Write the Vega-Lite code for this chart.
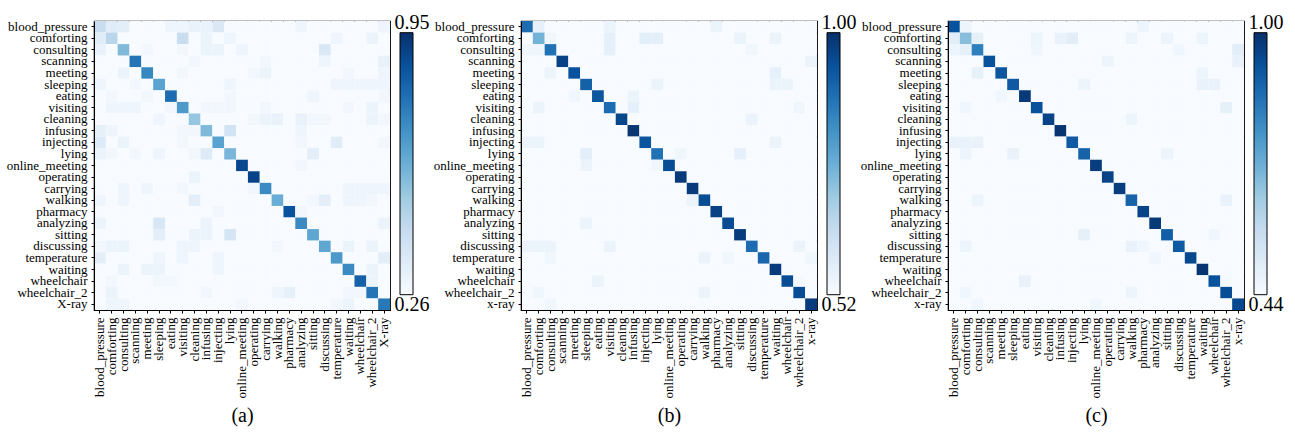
{
"$schema": "https://vega.github.io/schema/vega-lite/v6.json",
"background": "white",
"padding": {"left": 5, "top": 12, "right": 5, "bottom": 5},
"data": {"values": [
{"panel":"a","row":"a","a":0.42,"b":0.34,"c":0.33,"d":0,"e":0,"f":0,"g":0.29,"h":0.29,"i":0.31,"j":0.31,"k":0.36,"l":0,"m":0,"n":0,"o":0,"p":0,"q":0,"r":0.29,"s":0,"t":0,"u":0,"v":0,"w":0,"x":0,"y":0.29},
{"panel":"a","row":"b","a":0.34,"b":0.46,"c":0,"d":0,"e":0,"f":0,"g":0,"h":0.42,"i":0,"j":0.3,"k":0,"l":0.29,"m":0,"n":0,"o":0,"p":0,"q":0,"r":0,"s":0,"t":0,"u":0.29,"v":0,"w":0,"x":0.3,"y":0},
{"panel":"a","row":"c","a":0.31,"b":0,"c":0.57,"d":0,"e":0.28,"f":0,"g":0,"h":0.28,"i":0,"j":0.3,"k":0.3,"l":0,"m":0.29,"n":0,"o":0,"p":0,"q":0,"r":0,"s":0,"t":0.36,"u":0,"v":0,"w":0,"x":0,"y":0},
{"panel":"a","row":"d","a":0,"b":0,"c":0,"d":0.77,"e":0,"f":0,"g":0,"h":0,"i":0.28,"j":0,"k":0,"l":0,"m":0,"n":0,"o":0.28,"p":0,"q":0,"r":0,"s":0,"t":0.29,"u":0,"v":0,"w":0,"x":0,"y":0.31},
{"panel":"a","row":"e","a":0,"b":0,"c":0.3,"d":0,"e":0.72,"f":0,"g":0,"h":0.28,"i":0,"j":0,"k":0,"l":0,"m":0,"n":0.28,"o":0.3,"p":0,"q":0,"r":0,"s":0,"t":0,"u":0,"v":0.28,"w":0,"x":0,"y":0.29},
{"panel":"a","row":"f","a":0.29,"b":0,"c":0,"d":0.28,"e":0,"f":0.64,"g":0,"h":0,"i":0,"j":0,"k":0,"l":0.29,"m":0,"n":0,"o":0,"p":0,"q":0,"r":0,"s":0,"t":0,"u":0.29,"v":0.29,"w":0.29,"x":0.29,"y":0.29},
{"panel":"a","row":"g","a":0,"b":0.28,"c":0,"d":0,"e":0.28,"f":0,"g":0.79,"h":0,"i":0,"j":0,"k":0,"l":0.28,"m":0,"n":0,"o":0,"p":0,"q":0,"r":0,"s":0.29,"t":0,"u":0,"v":0,"w":0,"x":0,"y":0.28},
{"panel":"a","row":"h","a":0,"b":0.29,"c":0.29,"d":0.29,"e":0,"f":0,"g":0.28,"h":0.67,"i":0,"j":0.28,"k":0.28,"l":0.28,"m":0,"n":0,"o":0.28,"p":0,"q":0,"r":0,"s":0,"t":0,"u":0,"v":0.28,"w":0,"x":0.3,"y":0},
{"panel":"a","row":"i","a":0,"b":0,"c":0,"d":0,"e":0,"f":0.29,"g":0,"h":0,"i":0.53,"j":0,"k":0,"l":0,"m":0,"n":0.28,"o":0.3,"p":0.31,"q":0,"r":0.31,"s":0.28,"t":0.28,"u":0,"v":0,"w":0,"x":0.3,"y":0.28},
{"panel":"a","row":"j","a":0.32,"b":0.29,"c":0,"d":0,"e":0,"f":0,"g":0,"h":0.28,"i":0.28,"j":0.57,"k":0,"l":0.39,"m":0,"n":0,"o":0,"p":0,"q":0,"r":0.29,"s":0,"t":0,"u":0,"v":0,"w":0,"x":0,"y":0},
{"panel":"a","row":"k","a":0.35,"b":0,"c":0.3,"d":0,"e":0,"f":0,"g":0,"h":0.28,"i":0,"j":0,"k":0.64,"l":0,"m":0,"n":0,"o":0,"p":0,"q":0,"r":0.28,"s":0,"t":0,"u":0.34,"v":0,"w":0,"x":0,"y":0.28},
{"panel":"a","row":"l","a":0.3,"b":0.28,"c":0,"d":0.28,"e":0,"f":0.29,"g":0,"h":0,"i":0.28,"j":0.35,"k":0,"l":0.58,"m":0,"n":0,"o":0,"p":0,"q":0,"r":0,"s":0.33,"t":0,"u":0,"v":0,"w":0,"x":0,"y":0},
{"panel":"a","row":"m","a":0,"b":0,"c":0,"d":0,"e":0,"f":0,"g":0,"h":0,"i":0,"j":0,"k":0,"l":0,"m":0.89,"n":0,"o":0,"p":0,"q":0,"r":0.28,"s":0,"t":0,"u":0,"v":0,"w":0,"x":0,"y":0},
{"panel":"a","row":"n","a":0,"b":0,"c":0,"d":0,"e":0,"f":0,"g":0,"h":0,"i":0.3,"j":0,"k":0,"l":0,"m":0,"n":0.9,"o":0,"p":0,"q":0,"r":0,"s":0,"t":0,"u":0,"v":0,"w":0,"x":0,"y":0},
{"panel":"a","row":"o","a":0,"b":0,"c":0.29,"d":0,"e":0.29,"f":0,"g":0,"h":0.28,"i":0,"j":0,"k":0,"l":0,"m":0,"n":0.28,"o":0.71,"p":0,"q":0,"r":0,"s":0,"t":0,"u":0,"v":0.29,"w":0.29,"x":0.29,"y":0.29},
{"panel":"a","row":"p","a":0.29,"b":0,"c":0.29,"d":0,"e":0,"f":0,"g":0,"h":0,"i":0.33,"j":0,"k":0,"l":0,"m":0,"n":0,"o":0,"p":0.61,"q":0,"r":0,"s":0.28,"t":0.33,"u":0,"v":0.29,"w":0.29,"x":0.28,"y":0},
{"panel":"a","row":"q","a":0,"b":0,"c":0,"d":0,"e":0,"f":0,"g":0,"h":0,"i":0,"j":0,"k":0.28,"l":0,"m":0,"n":0,"o":0,"p":0,"q":0.86,"r":0.28,"s":0,"t":0,"u":0,"v":0,"w":0,"x":0,"y":0},
{"panel":"a","row":"r","a":0.3,"b":0,"c":0,"d":0,"e":0,"f":0.37,"g":0,"h":0,"i":0,"j":0.3,"k":0,"l":0,"m":0,"n":0,"o":0,"p":0,"q":0,"r":0.71,"s":0,"t":0,"u":0,"v":0,"w":0,"x":0,"y":0.3},
{"panel":"a","row":"s","a":0,"b":0,"c":0,"d":0,"e":0,"f":0.33,"g":0,"h":0,"i":0.3,"j":0.3,"k":0,"l":0.38,"m":0,"n":0,"o":0,"p":0,"q":0,"r":0,"s":0.63,"t":0,"u":0,"v":0,"w":0,"x":0,"y":0},
{"panel":"a","row":"t","a":0.28,"b":0.3,"c":0.3,"d":0,"e":0,"f":0,"g":0,"h":0.29,"i":0.29,"j":0,"k":0,"l":0,"m":0,"n":0,"o":0,"p":0.28,"q":0,"r":0,"s":0,"t":0.63,"u":0,"v":0.3,"w":0,"x":0.3,"y":0},
{"panel":"a","row":"u","a":0.33,"b":0,"c":0,"d":0,"e":0,"f":0.29,"g":0,"h":0.29,"i":0,"j":0,"k":0.29,"l":0,"m":0,"n":0,"o":0,"p":0,"q":0,"r":0,"s":0,"t":0,"u":0.67,"v":0,"w":0,"x":0,"y":0.33},
{"panel":"a","row":"v","a":0,"b":0,"c":0.3,"d":0,"e":0.3,"f":0.3,"g":0,"h":0,"i":0,"j":0,"k":0.29,"l":0,"m":0,"n":0,"o":0,"p":0,"q":0,"r":0,"s":0,"t":0,"u":0,"v":0.71,"w":0,"x":0.3,"y":0},
{"panel":"a","row":"w","a":0,"b":0.28,"c":0,"d":0,"e":0,"f":0.28,"g":0.28,"h":0,"i":0,"j":0,"k":0,"l":0,"m":0,"n":0,"o":0,"p":0,"q":0,"r":0,"s":0,"t":0,"u":0,"v":0,"w":0.82,"x":0.3,"y":0},
{"panel":"a","row":"x","a":0,"b":0.3,"c":0,"d":0,"e":0,"f":0,"g":0,"h":0,"i":0,"j":0.28,"k":0,"l":0,"m":0,"n":0,"o":0,"p":0.29,"q":0.32,"r":0,"s":0,"t":0,"u":0,"v":0.28,"w":0.28,"x":0.77,"y":0},
{"panel":"a","row":"y","a":0,"b":0.29,"c":0.29,"d":0,"e":0,"f":0,"g":0,"h":0,"i":0,"j":0,"k":0,"l":0,"m":0.28,"n":0,"o":0,"p":0,"q":0,"r":0,"s":0,"t":0,"u":0.28,"v":0.3,"w":0,"x":0,"y":0.76},
{"panel":"b","row":"a","a":0.89,"b":0.56,"c":0,"d":0,"e":0,"f":0,"g":0,"h":0.55,"i":0,"j":0,"k":0,"l":0,"m":0,"n":0,"o":0,"p":0,"q":0.55,"r":0,"s":0,"t":0,"u":0,"v":0,"w":0,"x":0,"y":0},
{"panel":"b","row":"b","a":0,"b":0.75,"c":0.54,"d":0,"e":0,"f":0,"g":0,"h":0.56,"i":0,"j":0,"k":0.57,"l":0.57,"m":0,"n":0,"o":0,"p":0,"q":0,"r":0,"s":0.55,"t":0,"u":0,"v":0.55,"w":0,"x":0,"y":0},
{"panel":"b","row":"c","a":0.54,"b":0.54,"c":0.88,"d":0,"e":0,"f":0,"g":0,"h":0.56,"i":0,"j":0,"k":0,"l":0,"m":0,"n":0,"o":0,"p":0,"q":0,"r":0,"s":0,"t":0.54,"u":0,"v":0,"w":0,"x":0,"y":0},
{"panel":"b","row":"d","a":0,"b":0,"c":0,"d":0.97,"e":0,"f":0,"g":0,"h":0,"i":0,"j":0,"k":0,"l":0,"m":0,"n":0,"o":0,"p":0,"q":0,"r":0,"s":0,"t":0,"u":0,"v":0,"w":0,"x":0,"y":0.55},
{"panel":"b","row":"e","a":0,"b":0,"c":0.55,"d":0,"e":0.94,"f":0,"g":0,"h":0,"i":0,"j":0,"k":0,"l":0,"m":0,"n":0,"o":0,"p":0,"q":0,"r":0,"s":0,"t":0,"u":0,"v":0.56,"w":0,"x":0,"y":0},
{"panel":"b","row":"f","a":0,"b":0,"c":0,"d":0,"e":0,"f":0.91,"g":0,"h":0,"i":0,"j":0,"k":0,"l":0.55,"m":0,"n":0,"o":0,"p":0,"q":0,"r":0,"s":0,"t":0,"u":0,"v":0.55,"w":0.55,"x":0,"y":0},
{"panel":"b","row":"g","a":0,"b":0,"c":0,"d":0,"e":0.54,"f":0,"g":0.93,"h":0,"i":0,"j":0.55,"k":0,"l":0,"m":0,"n":0,"o":0,"p":0,"q":0,"r":0,"s":0,"t":0,"u":0,"v":0,"w":0,"x":0,"y":0},
{"panel":"b","row":"h","a":0,"b":0.55,"c":0,"d":0,"e":0,"f":0,"g":0,"h":0.89,"i":0,"j":0.56,"k":0,"l":0,"m":0,"n":0,"o":0,"p":0,"q":0,"r":0,"s":0,"t":0,"u":0,"v":0,"w":0,"x":0.54,"y":0},
{"panel":"b","row":"i","a":0,"b":0,"c":0,"d":0,"e":0,"f":0,"g":0,"h":0,"i":0.96,"j":0,"k":0,"l":0,"m":0,"n":0,"o":0,"p":0,"q":0,"r":0,"s":0,"t":0.55,"u":0,"v":0,"w":0,"x":0,"y":0},
{"panel":"b","row":"j","a":0,"b":0,"c":0,"d":0,"e":0,"f":0,"g":0,"h":0,"i":0,"j":0.99,"k":0,"l":0,"m":0,"n":0,"o":0,"p":0,"q":0,"r":0,"s":0,"t":0,"u":0,"v":0,"w":0,"x":0,"y":0},
{"panel":"b","row":"k","a":0.55,"b":0.55,"c":0,"d":0,"e":0,"f":0,"g":0,"h":0,"i":0,"j":0,"k":0.93,"l":0,"m":0,"n":0,"o":0,"p":0,"q":0,"r":0,"s":0,"t":0,"u":0,"v":0.55,"w":0,"x":0,"y":0},
{"panel":"b","row":"l","a":0,"b":0,"c":0,"d":0,"e":0,"f":0.57,"g":0,"h":0,"i":0,"j":0,"k":0,"l":0.88,"m":0,"n":0.54,"o":0,"p":0,"q":0,"r":0,"s":0.56,"t":0,"u":0,"v":0,"w":0,"x":0,"y":0},
{"panel":"b","row":"m","a":0,"b":0,"c":0,"d":0,"e":0,"f":0.55,"g":0,"h":0,"i":0,"j":0,"k":0,"l":0.54,"m":0.95,"n":0,"o":0,"p":0,"q":0,"r":0,"s":0,"t":0,"u":0,"v":0,"w":0,"x":0,"y":0},
{"panel":"b","row":"n","a":0,"b":0,"c":0,"d":0,"e":0,"f":0,"g":0,"h":0,"i":0,"j":0,"k":0,"l":0,"m":0,"n":0.98,"o":0,"p":0,"q":0,"r":0,"s":0,"t":0,"u":0,"v":0,"w":0,"x":0,"y":0},
{"panel":"b","row":"o","a":0,"b":0,"c":0,"d":0,"e":0,"f":0,"g":0,"h":0,"i":0,"j":0,"k":0,"l":0,"m":0,"n":0,"o":0.98,"p":0,"q":0,"r":0,"s":0,"t":0,"u":0,"v":0,"w":0,"x":0,"y":0},
{"panel":"b","row":"p","a":0,"b":0,"c":0,"d":0,"e":0,"f":0,"g":0,"h":0,"i":0,"j":0,"k":0,"l":0,"m":0,"n":0,"o":0.55,"p":0.95,"q":0,"r":0,"s":0,"t":0,"u":0,"v":0,"w":0,"x":0,"y":0},
{"panel":"b","row":"q","a":0,"b":0,"c":0,"d":0,"e":0,"f":0,"g":0,"h":0,"i":0,"j":0,"k":0,"l":0,"m":0,"n":0,"o":0,"p":0,"q":0.97,"r":0,"s":0,"t":0,"u":0,"v":0,"w":0,"x":0,"y":0},
{"panel":"b","row":"r","a":0,"b":0,"c":0,"d":0,"e":0,"f":0.55,"g":0,"h":0,"i":0,"j":0,"k":0,"l":0,"m":0,"n":0,"o":0,"p":0,"q":0,"r":0.95,"s":0,"t":0,"u":0,"v":0,"w":0,"x":0,"y":0},
{"panel":"b","row":"s","a":0,"b":0,"c":0,"d":0,"e":0,"f":0,"g":0,"h":0,"i":0,"j":0,"k":0,"l":0,"m":0,"n":0,"o":0,"p":0,"q":0,"r":0,"s":0.98,"t":0,"u":0,"v":0,"w":0,"x":0,"y":0},
{"panel":"b","row":"t","a":0.55,"b":0.55,"c":0.55,"d":0,"e":0,"f":0,"g":0,"h":0.55,"i":0,"j":0,"k":0,"l":0,"m":0,"n":0,"o":0,"p":0,"q":0,"r":0,"s":0,"t":0.89,"u":0,"v":0,"w":0,"x":0.55,"y":0},
{"panel":"b","row":"u","a":0,"b":0,"c":0.54,"d":0,"e":0,"f":0,"g":0,"h":0,"i":0,"j":0,"k":0,"l":0,"m":0,"n":0,"o":0,"p":0.55,"q":0,"r":0.54,"s":0,"t":0,"u":0.9,"v":0,"w":0,"x":0,"y":0.54},
{"panel":"b","row":"v","a":0,"b":0,"c":0,"d":0,"e":0,"f":0,"g":0,"h":0,"i":0,"j":0,"k":0,"l":0,"m":0,"n":0,"o":0,"p":0,"q":0,"r":0,"s":0,"t":0,"u":0,"v":0.98,"w":0,"x":0,"y":0},
{"panel":"b","row":"w","a":0,"b":0,"c":0,"d":0,"e":0,"f":0,"g":0.55,"h":0,"i":0,"j":0,"k":0,"l":0,"m":0,"n":0,"o":0,"p":0,"q":0,"r":0,"s":0,"t":0,"u":0,"v":0,"w":0.95,"x":0.53,"y":0},
{"panel":"b","row":"x","a":0,"b":0.54,"c":0,"d":0,"e":0,"f":0,"g":0,"h":0,"i":0,"j":0,"k":0,"l":0,"m":0,"n":0,"o":0,"p":0.55,"q":0,"r":0,"s":0,"t":0,"u":0,"v":0,"w":0,"x":0.95,"y":0},
{"panel":"b","row":"y","a":0,"b":0,"c":0.54,"d":0,"e":0,"f":0,"g":0,"h":0,"i":0,"j":0,"k":0,"l":0,"m":0,"n":0,"o":0,"p":0,"q":0,"r":0,"s":0,"t":0,"u":0,"v":0,"w":0,"x":0,"y":0.98},
{"panel":"c","row":"a","a":0.93,"b":0.47,"c":0,"d":0,"e":0,"f":0,"g":0,"h":0,"i":0,"j":0,"k":0,"l":0,"m":0,"n":0,"o":0,"p":0,"q":0.47,"r":0,"s":0,"t":0,"u":0,"v":0,"w":0,"x":0,"y":0},
{"panel":"c","row":"b","a":0.5,"b":0.68,"c":0.49,"d":0,"e":0,"f":0,"g":0,"h":0.47,"i":0,"j":0.48,"k":0.5,"l":0,"m":0,"n":0,"o":0,"p":0.47,"q":0,"r":0,"s":0.47,"t":0,"u":0,"v":0.47,"w":0,"x":0,"y":0},
{"panel":"c","row":"c","a":0.47,"b":0.49,"c":0.83,"d":0,"e":0,"f":0,"g":0,"h":0.46,"i":0,"j":0,"k":0,"l":0,"m":0,"n":0,"o":0,"p":0,"q":0,"r":0,"s":0,"t":0.46,"u":0,"v":0,"w":0,"x":0,"y":0.5},
{"panel":"c","row":"d","a":0,"b":0,"c":0,"d":0.93,"e":0,"f":0,"g":0,"h":0,"i":0,"j":0,"k":0,"l":0,"m":0,"n":0.47,"o":0,"p":0,"q":0,"r":0,"s":0,"t":0,"u":0,"v":0,"w":0,"x":0,"y":0.48},
{"panel":"c","row":"e","a":0,"b":0,"c":0.49,"d":0,"e":0.92,"f":0,"g":0,"h":0,"i":0,"j":0,"k":0,"l":0,"m":0,"n":0,"o":0,"p":0,"q":0,"r":0,"s":0,"t":0,"u":0,"v":0.47,"w":0,"x":0,"y":0},
{"panel":"c","row":"f","a":0,"b":0,"c":0,"d":0,"e":0,"f":0.91,"g":0,"h":0,"i":0,"j":0,"k":0,"l":0.47,"m":0,"n":0,"o":0,"p":0,"q":0,"r":0,"s":0,"t":0,"u":0,"v":0.48,"w":0.48,"x":0,"y":0},
{"panel":"c","row":"g","a":0,"b":0,"c":0,"d":0,"e":0.46,"f":0,"g":0.98,"h":0,"i":0,"j":0,"k":0,"l":0,"m":0,"n":0,"o":0,"p":0,"q":0,"r":0,"s":0,"t":0,"u":0,"v":0,"w":0,"x":0,"y":0},
{"panel":"c","row":"h","a":0,"b":0.46,"c":0,"d":0,"e":0,"f":0,"g":0,"h":0.93,"i":0,"j":0,"k":0,"l":0,"m":0,"n":0,"o":0,"p":0,"q":0,"r":0,"s":0,"t":0,"u":0,"v":0,"w":0,"x":0.49,"y":0},
{"panel":"c","row":"i","a":0,"b":0,"c":0,"d":0,"e":0,"f":0,"g":0,"h":0,"i":0.96,"j":0,"k":0,"l":0,"m":0,"n":0,"o":0,"p":0.47,"q":0,"r":0,"s":0,"t":0,"u":0,"v":0,"w":0,"x":0,"y":0},
{"panel":"c","row":"j","a":0,"b":0,"c":0,"d":0,"e":0,"f":0,"g":0,"h":0,"i":0,"j":0.99,"k":0,"l":0,"m":0,"n":0,"o":0,"p":0,"q":0,"r":0,"s":0,"t":0,"u":0,"v":0,"w":0,"x":0,"y":0},
{"panel":"c","row":"k","a":0.48,"b":0.48,"c":0.48,"d":0,"e":0,"f":0,"g":0,"h":0,"i":0,"j":0,"k":0.91,"l":0,"m":0,"n":0,"o":0,"p":0,"q":0,"r":0,"s":0,"t":0,"u":0,"v":0,"w":0,"x":0,"y":0},
{"panel":"c","row":"l","a":0,"b":0.47,"c":0,"d":0,"e":0,"f":0.48,"g":0,"h":0,"i":0,"j":0,"k":0,"l":0.89,"m":0,"n":0,"o":0,"p":0,"q":0,"r":0,"s":0.47,"t":0,"u":0,"v":0,"w":0,"x":0,"y":0},
{"panel":"c","row":"m","a":0,"b":0,"c":0,"d":0,"e":0,"f":0,"g":0,"h":0,"i":0,"j":0,"k":0,"l":0,"m":0.97,"n":0,"o":0,"p":0,"q":0,"r":0,"s":0,"t":0,"u":0,"v":0,"w":0,"x":0,"y":0},
{"panel":"c","row":"n","a":0,"b":0,"c":0,"d":0,"e":0,"f":0,"g":0,"h":0,"i":0,"j":0,"k":0,"l":0,"m":0,"n":0.96,"o":0,"p":0,"q":0,"r":0,"s":0,"t":0,"u":0,"v":0,"w":0,"x":0,"y":0},
{"panel":"c","row":"o","a":0,"b":0,"c":0,"d":0,"e":0,"f":0,"g":0,"h":0,"i":0,"j":0,"k":0,"l":0,"m":0,"n":0,"o":0.97,"p":0,"q":0,"r":0,"s":0,"t":0,"u":0,"v":0,"w":0,"x":0,"y":0},
{"panel":"c","row":"p","a":0,"b":0,"c":0.47,"d":0,"e":0,"f":0,"g":0,"h":0,"i":0,"j":0,"k":0,"l":0,"m":0,"n":0,"o":0,"p":0.89,"q":0,"r":0,"s":0,"t":0,"u":0,"v":0,"w":0,"x":0.48,"y":0},
{"panel":"c","row":"q","a":0,"b":0,"c":0,"d":0,"e":0,"f":0,"g":0,"h":0,"i":0,"j":0,"k":0,"l":0,"m":0,"n":0,"o":0,"p":0,"q":0.96,"r":0,"s":0,"t":0,"u":0,"v":0,"w":0,"x":0,"y":0},
{"panel":"c","row":"r","a":0,"b":0,"c":0,"d":0,"e":0,"f":0,"g":0,"h":0,"i":0,"j":0,"k":0,"l":0,"m":0,"n":0,"o":0,"p":0,"q":0,"r":0.98,"s":0,"t":0,"u":0,"v":0,"w":0,"x":0,"y":0},
{"panel":"c","row":"s","a":0,"b":0,"c":0,"d":0,"e":0,"f":0,"g":0,"h":0,"i":0,"j":0,"k":0,"l":0.49,"m":0,"n":0,"o":0,"p":0,"q":0,"r":0,"s":0.9,"t":0,"u":0,"v":0,"w":0.46,"x":0,"y":0},
{"panel":"c","row":"t","a":0,"b":0.47,"c":0,"d":0,"e":0,"f":0,"g":0,"h":0,"i":0,"j":0,"k":0,"l":0,"m":0,"n":0,"o":0,"p":0.48,"q":0.46,"r":0,"s":0,"t":0.91,"u":0,"v":0,"w":0,"x":0,"y":0},
{"panel":"c","row":"u","a":0,"b":0,"c":0,"d":0,"e":0,"f":0,"g":0,"h":0,"i":0,"j":0,"k":0,"l":0,"m":0,"n":0,"o":0,"p":0,"q":0,"r":0.46,"s":0,"t":0,"u":0.95,"v":0,"w":0,"x":0,"y":0},
{"panel":"c","row":"v","a":0,"b":0,"c":0,"d":0,"e":0,"f":0,"g":0,"h":0,"i":0,"j":0,"k":0,"l":0,"m":0,"n":0,"o":0,"p":0,"q":0,"r":0,"s":0,"t":0,"u":0,"v":0.99,"w":0,"x":0,"y":0},
{"panel":"c","row":"w","a":0,"b":0,"c":0,"d":0,"e":0,"f":0,"g":0.48,"h":0,"i":0,"j":0,"k":0,"l":0,"m":0,"n":0,"o":0,"p":0,"q":0,"r":0,"s":0,"t":0,"u":0,"v":0,"w":0.93,"x":0.45,"y":0},
{"panel":"c","row":"x","a":0,"b":0.46,"c":0,"d":0,"e":0,"f":0,"g":0,"h":0,"i":0,"j":0,"k":0,"l":0,"m":0,"n":0,"o":0,"p":0.47,"q":0,"r":0,"s":0,"t":0,"u":0,"v":0,"w":0,"x":0.94,"y":0},
{"panel":"c","row":"y","a":0,"b":0,"c":0.46,"d":0,"e":0,"f":0,"g":0,"h":0,"i":0,"j":0,"k":0,"l":0,"m":0.46,"n":0,"o":0,"p":0,"q":0,"r":0,"s":0,"t":0,"u":0,"v":0,"w":0,"x":0,"y":0.95}
]},
"spacing": 3,
"hconcat": [
{"spacing": 2, "hconcat": [
{
 "width": 296, "height": 289,
 "transform": [{"filter": "datum.panel === 'a'"}, {"fold": ["a","b","c","d","e","f","g","h","i","j","k","l","m","n","o","p","q","r","s","t","u","v","w","x","y"], "as": ["col","v"]}],
 "mark": {"type": "rect"},
 "encoding": {
  "x": {"field": "col", "type": "ordinal", "axis": {"title": "(a)", "labelAngle": -90, "labelExpr": "['blood_pressure','comforting','consulting','scanning','meeting','sleeping','eating','visiting','cleaning','infusing','injecting','lying','online_meeting','operating','carrying','walking','pharmacy','analyzing','sitting','discussing','temperature','waiting','wheelchair','wheelchair_2','X-ray'][indexof('abcdefghijklmnopqrstuvwxy', datum.value)]"}},
  "y": {"field": "row", "type": "ordinal", "axis": {"title": null, "labelExpr": "['blood_pressure','comforting','consulting','scanning','meeting','sleeping','eating','visiting','cleaning','infusing','injecting','lying','online_meeting','operating','carrying','walking','pharmacy','analyzing','sitting','discussing','temperature','waiting','wheelchair','wheelchair_2','X-ray'][indexof('abcdefghijklmnopqrstuvwxy', datum.value)]"}},
  "color": {"field": "v", "type": "quantitative", "legend": null,
   "scale": {"domain": [0.26, 0.95], "clamp": true, "interpolate": "rgb", "range": ["#f7fbff","#deebf7","#c6dbef","#9ecae1","#6baed6","#4292c6","#2171b5","#08519c","#08306b"]}}
 }
},
{
 "width": 13, "height": 289,
 "view": {"stroke": null},
 "data": {"values": [{"lo": 0.26, "hi": 0.95}]},
 "mark": {"type": "rect", "stroke": "black", "strokeWidth": 1, "color": {"gradient": "linear", "x1": 0, "y1": 1, "x2": 0, "y2": 0, "stops": [{"offset": 0, "color": "#f7fbff"}, {"offset": 0.125, "color": "#deebf7"}, {"offset": 0.25, "color": "#c6dbef"}, {"offset": 0.375, "color": "#9ecae1"}, {"offset": 0.5, "color": "#6baed6"}, {"offset": 0.625, "color": "#4292c6"}, {"offset": 0.75, "color": "#2171b5"}, {"offset": 0.875, "color": "#08519c"}, {"offset": 1, "color": "#08306b"}]}},
 "encoding": {
  "y": {"field": "lo", "type": "quantitative", "scale": {"domain": [0.2197, 0.9808], "nice": false, "zero": false},
   "axis": {"title": null, "values": [0.26, 0.95], "format": ".2f", "domain": false, "ticks": false, "tickSize": 0, "labelAlign": "left", "labelPadding": 6, "labelFontSize": 20, "labelFlush": false, "labelBaseline": {"condition": {"test": "datum.value > 0.9", "value": "bottom"}, "value": "top"}}},
  "y2": {"field": "hi"}
 }
}
]},
{"spacing": 2, "hconcat": [
{
 "width": 296, "height": 289,
 "transform": [{"filter": "datum.panel === 'b'"}, {"fold": ["a","b","c","d","e","f","g","h","i","j","k","l","m","n","o","p","q","r","s","t","u","v","w","x","y"], "as": ["col","v"]}],
 "mark": {"type": "rect"},
 "encoding": {
  "x": {"field": "col", "type": "ordinal", "axis": {"title": "(b)", "labelAngle": -90, "labelExpr": "['blood_pressure','comforting','consulting','scanning','meeting','sleeping','eating','visiting','cleaning','infusing','injecting','lying','online_meeting','operating','carrying','walking','pharmacy','analyzing','sitting','discussing','temperature','waiting','wheelchair','wheelchair_2','x-ray'][indexof('abcdefghijklmnopqrstuvwxy', datum.value)]"}},
  "y": {"field": "row", "type": "ordinal", "axis": {"title": null, "labelExpr": "['blood_pressure','comforting','consulting','scanning','meeting','sleeping','eating','visiting','cleaning','infusing','injecting','lying','online_meeting','operating','carrying','walking','pharmacy','analyzing','sitting','discussing','temperature','waiting','wheelchair','wheelchair_2','x-ray'][indexof('abcdefghijklmnopqrstuvwxy', datum.value)]"}},
  "color": {"field": "v", "type": "quantitative", "legend": null,
   "scale": {"domain": [0.52, 1.0], "clamp": true, "interpolate": "rgb", "range": ["#f7fbff","#deebf7","#c6dbef","#9ecae1","#6baed6","#4292c6","#2171b5","#08519c","#08306b"]}}
 }
},
{
 "width": 13, "height": 289,
 "view": {"stroke": null},
 "data": {"values": [{"lo": 0.52, "hi": 1.0}]},
 "mark": {"type": "rect", "stroke": "black", "strokeWidth": 1, "color": {"gradient": "linear", "x1": 0, "y1": 1, "x2": 0, "y2": 0, "stops": [{"offset": 0, "color": "#f7fbff"}, {"offset": 0.125, "color": "#deebf7"}, {"offset": 0.25, "color": "#c6dbef"}, {"offset": 0.375, "color": "#9ecae1"}, {"offset": 0.5, "color": "#6baed6"}, {"offset": 0.625, "color": "#4292c6"}, {"offset": 0.75, "color": "#2171b5"}, {"offset": 0.875, "color": "#08519c"}, {"offset": 1, "color": "#08306b"}]}},
 "encoding": {
  "y": {"field": "lo", "type": "quantitative", "scale": {"domain": [0.492, 1.0214], "nice": false, "zero": false},
   "axis": {"title": null, "values": [0.52, 1.0], "format": ".2f", "domain": false, "ticks": false, "tickSize": 0, "labelAlign": "left", "labelPadding": 6, "labelFontSize": 20, "labelFlush": false, "labelBaseline": {"condition": {"test": "datum.value > 0.9", "value": "bottom"}, "value": "top"}}},
  "y2": {"field": "hi"}
 }
}
]},
{"spacing": 2, "hconcat": [
{
 "width": 296, "height": 289,
 "transform": [{"filter": "datum.panel === 'c'"}, {"fold": ["a","b","c","d","e","f","g","h","i","j","k","l","m","n","o","p","q","r","s","t","u","v","w","x","y"], "as": ["col","v"]}],
 "mark": {"type": "rect"},
 "encoding": {
  "x": {"field": "col", "type": "ordinal", "axis": {"title": "(c)", "labelAngle": -90, "labelExpr": "['blood_pressure','comforting','consulting','scanning','meeting','sleeping','eating','visiting','cleaning','infusing','injecting','lying','online_meeting','operating','carrying','walking','pharmacy','analyzing','sitting','discussing','temperature','waiting','wheelchair','wheelchair_2','x-ray'][indexof('abcdefghijklmnopqrstuvwxy', datum.value)]"}},
  "y": {"field": "row", "type": "ordinal", "axis": {"title": null, "labelExpr": "['blood_pressure','comforting','consulting','scanning','meeting','sleeping','eating','visiting','cleaning','infusing','injecting','lying','online_meeting','operating','carrying','walking','pharmacy','analyzing','sitting','discussing','temperature','waiting','wheelchair','wheelchair_2','x-ray'][indexof('abcdefghijklmnopqrstuvwxy', datum.value)]"}},
  "color": {"field": "v", "type": "quantitative", "legend": null,
   "scale": {"domain": [0.44, 1.0], "clamp": true, "interpolate": "rgb", "range": ["#f7fbff","#deebf7","#c6dbef","#9ecae1","#6baed6","#4292c6","#2171b5","#08519c","#08306b"]}}
 }
},
{
 "width": 13, "height": 289,
 "view": {"stroke": null},
 "data": {"values": [{"lo": 0.44, "hi": 1.0}]},
 "mark": {"type": "rect", "stroke": "black", "strokeWidth": 1, "color": {"gradient": "linear", "x1": 0, "y1": 1, "x2": 0, "y2": 0, "stops": [{"offset": 0, "color": "#f7fbff"}, {"offset": 0.125, "color": "#deebf7"}, {"offset": 0.25, "color": "#c6dbef"}, {"offset": 0.375, "color": "#9ecae1"}, {"offset": 0.5, "color": "#6baed6"}, {"offset": 0.625, "color": "#4292c6"}, {"offset": 0.75, "color": "#2171b5"}, {"offset": 0.875, "color": "#08519c"}, {"offset": 1, "color": "#08306b"}]}},
 "encoding": {
  "y": {"field": "lo", "type": "quantitative", "scale": {"domain": [0.4073, 1.025], "nice": false, "zero": false},
   "axis": {"title": null, "values": [0.44, 1.0], "format": ".2f", "domain": false, "ticks": false, "tickSize": 0, "labelAlign": "left", "labelPadding": 6, "labelFontSize": 20, "labelFlush": false, "labelBaseline": {"condition": {"test": "datum.value > 0.9", "value": "bottom"}, "value": "top"}}},
  "y2": {"field": "hi"}
 }
}
]}
],
"resolve": {"scale": {"color": "independent", "x": "independent", "y": "independent"}},
"config": {
 "font": "Liberation Serif",
 "view": {"stroke": "black", "strokeWidth": 1.2},
 "axis": {"labelFont": "Liberation Serif", "labelFontSize": 13, "labelColor": "black", "labelOverlap": false, "labelPadding": 4, "tickSize": 3, "tickColor": "black", "domainColor": "black", "grid": false, "titleFont": "Liberation Serif", "titleFontSize": 20, "titleFontWeight": "normal", "titleColor": "black", "titlePadding": 8}
}
}
